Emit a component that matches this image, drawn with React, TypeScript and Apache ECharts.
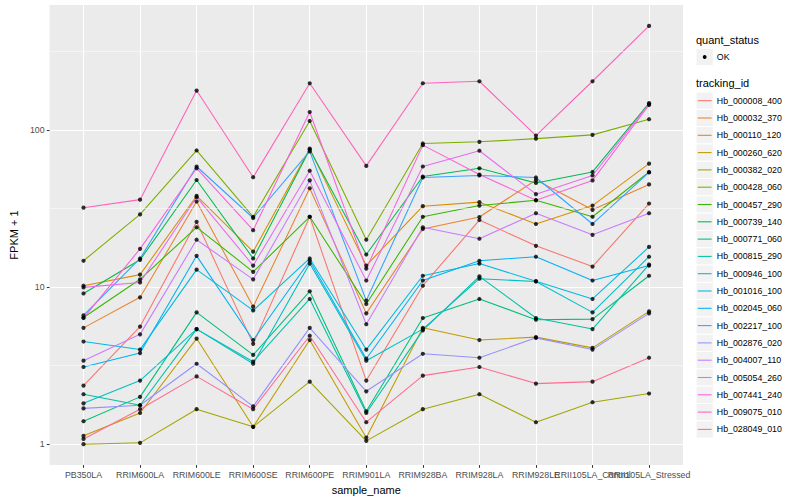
import React, { useEffect, useRef } from "react";
import * as echarts from "echarts";

const categories = [
  "PB350LA", "RRIM600LA", "RRIM600LE", "RRIM600SE", "RRIM600PE", "RRIM901LA",
  "RRIM928BA", "RRIM928LA", "RRIM928LE", "RRII105LA_Control", "RRII105LA_Stressed",
];

const trackingIds = [
  "Hb_000008_400", "Hb_000032_370", "Hb_000110_120", "Hb_000260_620", "Hb_000382_020",
  "Hb_000428_060", "Hb_000457_290", "Hb_000739_140", "Hb_000771_060", "Hb_000815_290",
  "Hb_000946_100", "Hb_001016_100", "Hb_002045_060", "Hb_002217_100", "Hb_002876_020",
  "Hb_004007_110", "Hb_005054_260", "Hb_007441_240", "Hb_009075_010", "Hb_028049_010",
];

const lineColors = [
  "#F8766D", "#EA8331", "#D89000", "#C09B00", "#A3A500", "#7CAE00", "#39B600", "#00BB4E",
  "#00BF7D", "#00C1A3", "#00BFC4", "#00BAE0", "#00B0F6", "#35A2FF", "#9590FF", "#C77CFF",
  "#E76BF3", "#FA62DB", "#FF62BC", "#FF6C91",
];

const yTickLabels = [1, 10, 100];
const quantStatus = ["OK"];

// FPKM + 1 per sample, in category order
const hb000008_400 = [2.36, 5.6, 26, 4.35, 28, 2.54, 10.2, 26.7, 18.3, 13.5, 34];
const hb000032_370 = [5.5, 8.6, 35, 7.5, 42.5, 6.8, 23.4, 27.9, 48, 31, 45];
const hb000110_120 = [10.2, 12, 38, 16.8, 76, 13.7, 32.7, 34.7, 25.2, 33, 61];
const hb000260_620 = [1.13, 1.58, 4.7, 1.29, 4.6, 1.1, 5.5, 4.6, 4.8, 4.1, 7.0];
const hb000382_020 = [1.0, 1.02, 1.67, 1.29, 2.5, 1.05, 1.67, 2.08, 1.38, 1.85, 2.1];
const hb000428_060 = [14.7, 29, 74, 28, 114, 20, 82, 84, 88, 93, 117];
const hb000457_290 = [6.4, 11.2, 24, 12.5, 28, 7.8, 28, 33, 35.7, 28, 54];
const hb000739_140 = [9.1, 14.9, 48, 15.2, 75, 16.1, 50.5, 57, 46, 54, 148];
const hb000771_060 = [1.4, 2.0, 6.9, 3.7, 9.4, 1.62, 6.35, 8.4, 6.2, 6.25, 11.8];
const hb000815_290 = [2.08, 1.77, 5.4, 3.35, 8.4, 1.58, 5.3, 11.7, 6.35, 5.4, 13.9];
const hb000946_100 = [1.82, 2.54, 5.4, 3.25, 14.1, 3.4, 5.4, 11.3, 10.85, 6.9, 15.6];
const hb001016_100 = [4.5, 4.0, 12.9, 7.1, 15.2, 4.0, 11.8, 14.1, 10.9, 8.4, 18];
const hb002045_060 = [3.1, 3.8, 15.8, 4.6, 14.7, 3.5, 11, 14.7, 15.6, 11, 13.7];
const hb002217_100 = [6.6, 15.2, 58.5, 27.5, 73, 8.2, 49.8, 51.3, 49.8, 25.2, 53.6];
const hb002876_020 = [1.69, 1.77, 3.25, 1.74, 5.5, 2.17, 3.76, 3.55, 4.75, 4.0, 6.8];
const hb004007_110 = [3.4, 5.0, 20, 11.2, 47.7, 5.8, 24, 20.3, 29.5, 21.5, 29.5];
const hb005054_260 = [9.95, 10.7, 37.3, 13.7, 55, 11, 58.5, 73.7, 39, 51.3, 146];
const hb007441_240 = [6.35, 17.5, 57, 23, 130, 13.1, 80, 52, 35.7, 47.7, 144];
const hb009075_010 = [32, 36, 178, 50, 198, 59, 198, 204, 92, 204, 459];
const hb028049_010 = [1.08, 1.67, 2.7, 1.67, 4.9, 1.38, 2.73, 3.1, 2.43, 2.5, 3.55];

const seriesValues = [
  hb000008_400, hb000032_370, hb000110_120, hb000260_620, hb000382_020,
  hb000428_060, hb000457_290, hb000739_140, hb000771_060, hb000815_290,
  hb000946_100, hb001016_100, hb002045_060, hb002217_100, hb002876_020,
  hb004007_110, hb005054_260, hb007441_240, hb009075_010, hb028049_010,
];

const FONT = "Liberation Sans, Arial, Helvetica, sans-serif";

export default function App() {
  const ref = useRef<HTMLDivElement>(null);

  useEffect(() => {
    if (!ref.current) return;
    const chart = echarts.init(ref.current, null, { renderer: "svg" });

    const logs = seriesValues.map((arr) => arr.map((v) => Math.log10(v)));
    const all = logs.flat();
    const lo = Math.min(...all);
    const hi = Math.max(...all);
    const pad = (hi - lo) * 0.05;
    const yMin = lo - pad;
    const yMax = hi + pad;
    const majors = yTickLabels.map((v) => Math.log10(v));
    const minors = majors.map((v) => v + 0.5).filter((v) => v > yMin && v < yMax);
    const xIdx = categories.map((_, i) => i);
    const xEven = xIdx.filter((i) => i % 2 === 0);
    const xOdd = xIdx.filter((i) => i % 2 === 1);

    const lineSeries = logs.map((arr, s) => ({
      type: "line",
      name: trackingIds[s],
      data: arr.map((v, i) => [i, v]),
      symbol: "none",
      showSymbol: false,
      silent: true,
      z: 3,
      lineStyle: { color: lineColors[s], width: 1.07 },
      emphasis: { disabled: true },
    }));

    const points: number[][] = [];
    logs.forEach((arr) => arr.forEach((v, i) => points.push([i, v])));

    // legend drawn as graphics, ggplot style
    const lx = 696;
    const keyW = 17.3;
    const graphics: any[] = [];
    const txt = (text: string, x: number, y: number, size: number) => ({
      type: "text",
      silent: true,
      style: { text, x, y, fill: "#000", fontSize: size, fontFamily: FONT, textVerticalAlign: "middle", verticalAlign: "middle" },
    });
    graphics.push(txt("quant_status", lx, 40, 11));
    quantStatus.forEach((q, i) => {
      const cy = 57 + i * keyW;
      graphics.push({
        type: "rect",
        silent: true,
        shape: { x: lx, y: cy - keyW / 2, width: keyW, height: keyW },
        style: { fill: "#F2F2F2", stroke: "#FFFFFF", lineWidth: 1 },
      });
      graphics.push({
        type: "circle",
        silent: true,
        shape: { cx: lx + keyW / 2, cy, r: 1.9 },
        style: { fill: "#000" },
      });
      graphics.push(txt(q, lx + keyW + 3.5, cy, 8.8));
    });
    graphics.push(txt("tracking_id", lx, 83, 11));
    trackingIds.forEach((id, i) => {
      const cy = 100.7 + i * keyW;
      graphics.push({
        type: "rect",
        silent: true,
        shape: { x: lx, y: cy - keyW / 2, width: keyW, height: keyW },
        style: { fill: "#F2F2F2", stroke: "#FFFFFF", lineWidth: 1 },
      });
      graphics.push({
        type: "line",
        silent: true,
        shape: { x1: lx + 1.7, y1: cy, x2: lx + keyW - 1.7, y2: cy },
        style: { stroke: lineColors[i], lineWidth: 1.07 },
      });
      graphics.push(txt(id, lx + keyW + 3.5, cy, 8.8));
    });

    const labelStyle = {
      formatter: (v: number) => categories[Math.round(v)] ?? "",
      color: "#4D4D4D", fontSize: 8.8, fontFamily: FONT, margin: 5,
      hideOverlap: false, showMinLabel: true, showMaxLabel: true,
    };
    const hiddenLine = { show: true, onZero: false, lineStyle: { color: "rgba(0,0,0,0)" } };

    chart.setOption({
      animation: false,
      backgroundColor: "#FFFFFF",
      textStyle: { fontFamily: FONT },
      grid: {
        left: 40, right: 117, top: 5, bottom: 32,
        show: true, backgroundColor: "#EBEBEB", borderWidth: 0,
      },
      xAxis: [
        {
          type: "value",
          position: "bottom",
          min: -0.6,
          max: categories.length - 1 + 0.6,
          name: "sample_name",
          nameLocation: "middle",
          nameGap: 14,
          nameTextStyle: { color: "#000", fontSize: 11, fontFamily: FONT },
          axisLine: hiddenLine,
          axisTick: { show: true, customValues: xIdx, length: 2.75, lineStyle: { color: "#333333", width: 1.07 } },
          axisLabel: { ...labelStyle, customValues: xEven },
          splitLine: { show: true, lineStyle: { color: "#FFFFFF", width: 1.07 } },
        },
        {
          type: "value",
          position: "bottom",
          offset: 0,
          min: -0.6,
          max: categories.length - 1 + 0.6,
          axisLine: hiddenLine,
          axisTick: { show: false },
          axisLabel: { ...labelStyle, customValues: xOdd },
          splitLine: { show: false },
        },
      ],
      yAxis: {
        type: "value",
        min: yMin,
        max: yMax,
        name: "FPKM + 1",
        nameLocation: "middle",
        nameGap: 22,
        nameRotate: 90,
        nameTextStyle: { color: "#000", fontSize: 11, fontFamily: FONT },
        axisLine: hiddenLine,
        axisTick: { show: true, customValues: majors, length: 2.75, lineStyle: { color: "#333333", width: 1.07 } },
        axisLabel: {
          customValues: majors,
          formatter: (v: number) => String(Math.round(Math.pow(10, v))),
          color: "#4D4D4D", fontSize: 8.8, fontFamily: FONT, margin: 5,
          hideOverlap: false, showMinLabel: true, showMaxLabel: true,
        },
        splitLine: { show: true, lineStyle: { color: "#FFFFFF", width: 1.07 } },
      },
      graphic: graphics,
      series: [
        {
          type: "line",
          data: [],
          z: 1,
          silent: true,
          markLine: {
            silent: true,
            symbol: ["none", "none"],
            label: { show: false },
            lineStyle: { color: "#FFFFFF", width: 0.53, type: "solid" },
            data: minors.map((v) => ({ yAxis: v })),
          },
        },
        ...lineSeries,
        {
          type: "scatter",
          data: points,
          symbol: "circle",
          symbolSize: 4.2,
          silent: true,
          z: 5,
          itemStyle: { color: "#000000" },
          emphasis: { disabled: true },
        },
      ],
    });

    return () => chart.dispose();
  }, []);

  return <div ref={ref} style={{ position: "fixed", left: 0, top: 0, width: 800, height: 500 }} />;
}
